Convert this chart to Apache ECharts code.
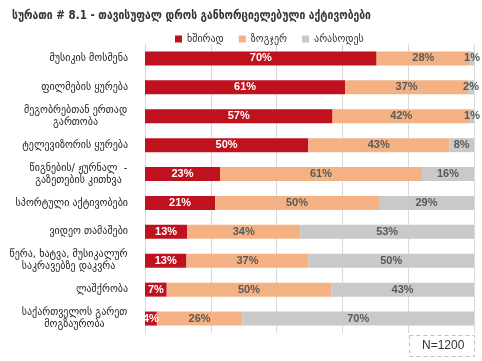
<!DOCTYPE html>
<html><head><meta charset="utf-8">
<script src="https://cdn.jsdelivr.net/npm/echarts@6/dist/echarts.min.js"></script>
<style>html,body{margin:0;padding:0;background:#fff}#c{width:482px;height:361px}</style>
</head><body><div id="c"></div>
<script>
const categories = [
  "მუსიკის მოსმენა",
  "ფილმების ყურება",
  "მეგობრებთან ერთად\nგართობა",
  "ტელევიზორის ყურება",
  "წიგნების/ ჟურნალ  -\nგაზეთების კითხვა",
  "სპორტული აქტივობები",
  "ვიდეო თამაშები",
  "წერა, ხატვა, მუსიკალურ\nსაკრავებზე დაკვრა",
  "ლაშქრობა",
  "საქართველოს გარეთ\nმოგზაურობა"
];
const often = [70.4, 60.8, 57.0, 49.6, 22.8, 21.3, 12.8, 12.6, 6.6, 3.6];
const sometimes = [28.4, 37.4, 41.8, 42.9, 61.4, 49.8, 34.4, 37.1, 50.0, 26.0];
const never = [1.2, 1.8, 1.2, 7.5, 15.8, 28.9, 52.8, 50.3, 43.4, 70.4];
const seriesNames = ["ხშირად", "ზოგჯერ", "არასოდეს"];
const xTicks = [0, 20, 40, 60, 80, 100];

const GEO = "'DejaVu Sans', sans-serif";
const GEO_T = "'DejaVu Sans Condensed', 'DejaVu Sans', sans-serif";
const ctx = document.createElement('canvas').getContext('2d');
ctx.font = "10px " + GEO;

const rich = {};
const labelMap = {};
categories.forEach((v, i) => {
  const lines = v.split("\n");
  if (lines.length === 1) { labelMap[v] = v; return; }
  const w = Math.ceil(Math.max.apply(null, lines.map(l => ctx.measureText(l).width))) + 1;
  rich['c' + i] = { fontFamily: GEO, fontSize: 10, color: '#222', lineHeight: 12, width: w, align: 'center' };
  labelMap[v] = lines.map(l => "{c" + i + "|" + l + "}").join("\n");
});

const chart = echarts.init(document.getElementById('c'));
const lbl = (color) => ({
  show: true, position: 'inside', color: color, fontWeight: 'bold',
  fontSize: 11, fontFamily: "'Liberation Sans', Arial, sans-serif",
  formatter: p => Math.round(p.value) + "%"
});
chart.setOption({
  animation: false,
  title: {
    text: "სურათი # 8.1 - თავისუფალ დროს განხორციელებული აქტივობები",
    left: 7, top: 5,
    textStyle: { fontFamily: GEO_T, fontSize: 11.5, fontWeight: 'bold', color: '#333' }
  },
  legend: {
    data: seriesNames, top: 29, left: 170,
    itemWidth: 7, itemHeight: 7, itemGap: 15, icon: 'rect',
    textStyle: { fontFamily: GEO, fontSize: 10, color: '#333' }
  },
  grid: { left: 145, right: 8, top: 44, bottom: 28 },
  xAxis: {
    type: 'value', min: xTicks[0], max: xTicks[xTicks.length-1], interval: 20,
    axisLabel: { show: false }, axisLine: { show: false }, axisTick: { show: false },
    splitLine: { show: true, lineStyle: { color: '#D9D9D9', width: 1 } }
  },
  yAxis: {
    type: 'category', data: categories, inverse: true,
    axisLine: { show: true, lineStyle: { color: '#D9D9D9' } },
    axisTick: { show: false },
    axisLabel: {
      margin: 17, fontFamily: GEO, fontSize: 10, color: '#222', lineHeight: 12,
      formatter: v => labelMap[v],
      rich: rich
    }
  },
  series: [
    { name: seriesNames[0], type: 'bar', stack: 's', data: often, barWidth: 14,
      itemStyle: { color: '#C0111F' }, label: lbl('#fff') },
    { name: seriesNames[1], type: 'bar', stack: 's', data: sometimes, barWidth: 14,
      itemStyle: { color: '#F4B183' }, label: lbl('#595959') },
    { name: seriesNames[2], type: 'bar', stack: 's', data: never, barWidth: 14,
      itemStyle: { color: '#C9C9C9' }, label: lbl('#595959') }
  ],
  graphic: [
    { type: 'rect', left: 409, top: 335, shape: { width: 65, height: 21 },
      style: { fill: '#fff', stroke: '#BFBFBF', lineWidth: 1, lineDash: [4, 3] } },
    { type: 'text', left: 422, top: 340,
      style: { text: 'N=1200', fontSize: 12, fontFamily: "'Liberation Sans', Arial, sans-serif", fill: '#333' } }
  ]
});
</script></body></html>
